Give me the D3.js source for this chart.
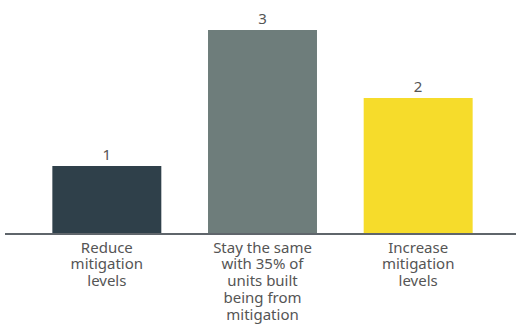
<!DOCTYPE html>
<html>
<head>
    <script src="https://d3js.org/d3.v7.min.js"></script>
    <style>
        body { margin: 0; background: #fff; }
        text { font-family: "Noto Sans", sans-serif; fill: #555; }
    </style>
</head>
<body>
    <div id="chart"></div>
    <script>
        const categories = ["Reduce", "Stay", "Increase"];
        const labelLines = [
            ["Reduce", "mitigation", "levels"],
            ["Stay the same", "with 35% of", "units built", "being from", "mitigation"],
            ["Increase", "mitigation", "levels"]
        ];
        const values = [1, 3, 2];
        const colors = ["#2f404a", "#6e7d7b", "#f6dc2b"];

        const width = 516, height = 331;
        const baseline = 234;

        const svg = d3.select("#chart").append("svg")
            .attr("width", width)
            .attr("height", height);

        const x = d3.scaleBand()
            .domain(categories)
            .range([29, 496])
            .paddingInner(0.3)
            .paddingOuter(0.15);

        const y = d3.scaleLinear()
            .domain([0, 3])
            .range([baseline, 30]);

        svg.selectAll("rect.bar")
            .data(values)
            .enter().append("rect")
            .attr("class", "bar")
            .attr("x", (d, i) => x(categories[i]))
            .attr("y", d => y(d))
            .attr("width", x.bandwidth())
            .attr("height", d => baseline - y(d))
            .style("fill", (d, i) => colors[i]);

        svg.selectAll("text.value")
            .data(values)
            .enter().append("text")
            .attr("class", "value")
            .attr("x", (d, i) => x(categories[i]) + x.bandwidth() / 2)
            .attr("y", d => y(d) - 6)
            .attr("text-anchor", "middle")
            .style("font-size", "15px")
            .text(d => d);

        // baseline
        svg.append("line")
            .attr("x1", 5)
            .attr("x2", width)
            .attr("y1", baseline)
            .attr("y2", baseline)
            .style("stroke", "#5f656b")
            .style("stroke-width", 2);

        const labels = svg.selectAll("text.cat")
            .data(labelLines)
            .enter().append("text")
            .attr("class", "cat")
            .attr("text-anchor", "middle")
            .style("font-size", "15px")
            .attr("transform", (d, i) => `translate(${x(categories[i]) + x.bandwidth() / 2},${baseline + 18.5})`);

        labels.selectAll("tspan")
            .data(d => d)
            .enter().append("tspan")
            .attr("x", 0)
            .attr("y", (d, i) => i * 16.8)
            .text(d => d);
    </script>
</body>
</html>
